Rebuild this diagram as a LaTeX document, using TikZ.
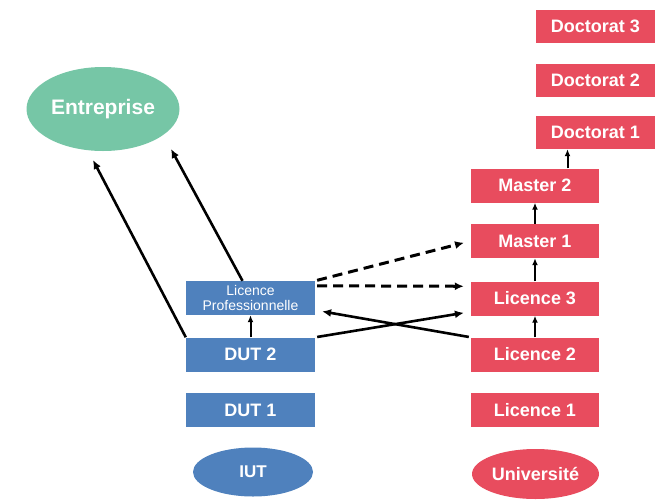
\documentclass[tikz,border=0pt]{standalone}
\usepackage{fontspec}
\setmainfont{Liberation Sans}
\definecolor{iut_blue}{RGB}{79, 129, 189}
\definecolor{univ_red}{RGB}{232, 76, 94}
\definecolor{ent_green}{RGB}{118, 198, 166}
\usetikzlibrary{arrows.meta, shapes.geometric, calc}

\begin{document}
\begin{tikzpicture}[x=1pt, y=-1pt,
    box/.style={rectangle, inner sep=0pt, minimum height=34pt, text=white,
      font=\fontsize{18}{20}\selectfont\bfseries},
    iutbox/.style={box, fill=iut_blue, minimum width=129pt},
    univbox/.style={box, fill=univ_red, minimum width=128pt},
    docbox/.style={box, fill=univ_red, minimum width=119pt, minimum height=33pt},
    blob/.style={ellipse, inner sep=0pt, text=white,
      font=\fontsize{18}{20}\selectfont\bfseries},
    arr/.style={-{Latex[length=9pt, width=8pt]}, line width=2.6pt},
    steparr/.style={-{Latex[length=7pt, width=6pt]}, line width=2pt},
    dasharr/.style={arr, line width=3pt, dash pattern=on 10pt off 6pt}]
        \useasboundingbox (0,0) rectangle (657,499);

        % --- Entreprise ---
        \node[blob, fill=ent_green, minimum width=153pt, minimum height=84pt,
              font=\fontsize{21}{23}\selectfont\bfseries] (ent) at (103,109) {Entreprise};
        \coordinate (ent_l) at (93,160);
        \coordinate (ent_r) at (171,149);

        % --- IUT column ---
        \node[blob, fill=iut_blue, minimum width=120pt, minimum height=49pt,
              font=\fontsize{17}{19}\selectfont\bfseries] (iut) at (253,472) {IUT};
        \node[iutbox] (dut1) at (250.5,410) {DUT 1};
        \node[iutbox] (dut2) at (250.5,354.5) {DUT 2};
        \node[iutbox, align=center, font=\fontsize{14}{14.5}\selectfont] (lp)
          at (250.5,298) {Licence\\Professionnelle};

        % --- Universite column ---
        \node[blob, fill=univ_red, minimum width=127pt, minimum height=50pt] (univ)
          at (535.5,474) {Université};
        \foreach \n/\t/\y in {l1/Licence 1/410, l2/Licence 2/354.5, l3/Licence 3/298.5,
                              m1/Master 1/241, m2/Master 2/185.5} {
          \node[univbox] (\n) at (535,\y) {\t};
        }
        \foreach \k/\y in {1/132.5, 2/80, 3/26.5} {
          \node[docbox] (d\k) at (595.5,\y) {Doctorat \k};
        }

        % --- Vertical steps ---
        \foreach \a/\b in {l2/l3, l3/m1, m1/m2, dut2/lp} {
          \draw[steparr] (\a.north) -- (\b.south);
        }
        \coordinate (mid) at ($(d1.south west)!0.5!(m2.north east)$);
        \draw[steparr] (mid |- m2.north) -- (mid |- d1.south);

        % --- To Entreprise ---
        \draw[arr] (dut2.north west) -- (ent_l);
        \draw[arr] ([xshift=-8pt]lp.north) -- (ent_r);

        % --- Passerelles ---
        \draw[dasharr, shorten <=2pt, shorten >=7pt] (lp.north east) -- (m1.west);
        \draw[dasharr, shorten <=2pt, shorten >=7pt]
          ([yshift=-5pt]lp.north east) -- ([yshift=-5pt]l3.north west);
        \draw[arr, shorten <=2pt, shorten >=7pt] (dut2.north east) -- ([yshift=4pt]l3.south west);
        \draw[arr, shorten <=2pt, shorten >=7pt] (l2.north west) -- ([yshift=5pt]lp.south east);
      \end{tikzpicture}
\end{document}
